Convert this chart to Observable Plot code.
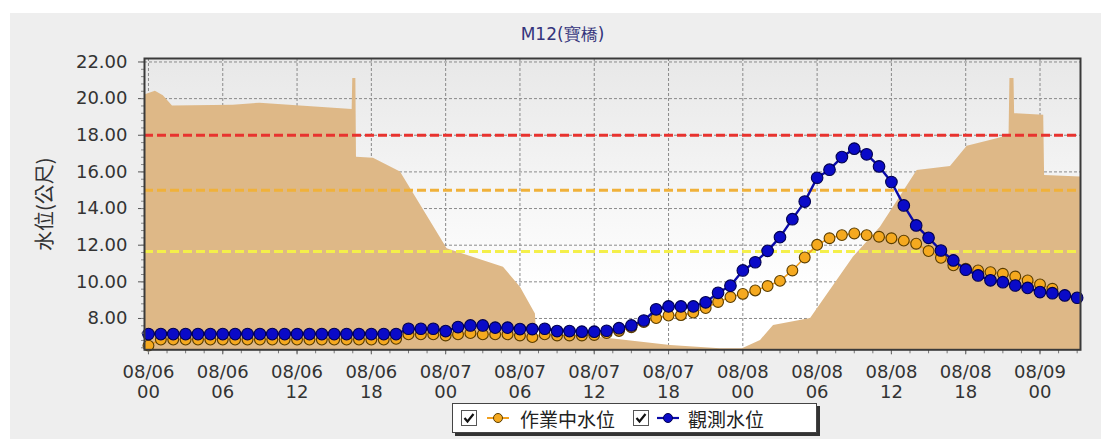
<!DOCTYPE html>
<html>
<head>
<meta charset="utf-8">
<script src="https://cdn.jsdelivr.net/npm/d3@7"></script>
<script src="https://cdn.jsdelivr.net/npm/@observablehq/plot@0.6"></script>
<style>
  html, body { margin: 0; padding: 0; }
  body { width: 1101px; height: 439px; overflow: hidden; background: #ffffff; position: relative; }
  #bg { position: absolute; left: 10px; top: 13px; right: 0; bottom: 0; background: #eeeeee; }
  #title { position: absolute; left: 0; top: 23px; width: 1101px; box-sizing: border-box; padding-left: 24px;
           text-align: center; font-family: "DejaVu Sans", sans-serif; font-size: 17px; color: #34347c; }
  #chart { position: absolute; left: 0; top: 50px; }
  #legend { position: absolute; left: 452px; top: 403px; width: 365px; height: 30px; box-sizing: border-box;
            border: 1px solid #444; background: #ffffff; box-shadow: 3px 3px 0 #333;
            display: flex; align-items: center; font-family: "Noto Sans CJK TC", sans-serif; font-size: 19px; color: #222; }
  #legend svg { display: block; }
</style>
</head>
<body>
<div id="bg"></div>
<div id="title">M12(寶橋)</div>
<div id="chart"></div>
<div id="legend">
  <svg width="16" height="16" style="margin-left:8px"><rect x="0.5" y="0.5" width="15" height="15" fill="#fff" stroke="#555"/><path d="M3.5 8 L6.5 11.5 L12.5 4" fill="none" stroke="#111" stroke-width="2.2"/></svg>
  <svg width="22" height="14" style="margin-left:10px"><line x1="0" y1="7" x2="22" y2="7" stroke="#f0a020" stroke-width="2"/><circle cx="11" cy="7" r="4.5" fill="#f5a91f" stroke="#5a3d00"/></svg>
  <span style="margin-left:11px">作業中水位</span>
  <svg width="16" height="16" style="margin-left:18px"><rect x="0.5" y="0.5" width="15" height="15" fill="#fff" stroke="#555"/><path d="M3.5 8 L6.5 11.5 L12.5 4" fill="none" stroke="#111" stroke-width="2.2"/></svg>
  <svg width="22" height="14" style="margin-left:8px"><line x1="0" y1="7" x2="22" y2="7" stroke="#0a0aa8" stroke-width="2.2"/><circle cx="11" cy="7" r="4.5" fill="#0a0ac8" stroke="#000050"/></svg>
  <span style="margin-left:9px">觀測水位</span>
</div>
<script>
// ---- data ----
const startUTC = Date.UTC(2009, 7, 6, 0, 0);   // 08/06 00:00

// 觀測水位 (hourly from 08/06 00)
const observedLevels = [
  7.15, 7.15, 7.15, 7.15, 7.15, 7.15, 7.15, 7.15, 7.15, 7.15,
  7.15, 7.15, 7.15, 7.15, 7.15, 7.15, 7.15, 7.15, 7.15, 7.15,
  7.15, 7.44, 7.44, 7.44, 7.31, 7.53, 7.62, 7.62, 7.50, 7.50,
  7.42, 7.42, 7.44, 7.31, 7.31, 7.28, 7.28, 7.33, 7.47, 7.62,
  7.89, 8.50, 8.66, 8.66, 8.66, 8.88, 9.40, 9.79, 10.62, 11.07,
  11.69, 12.44, 13.42, 14.38, 15.68, 16.12, 16.81, 17.27, 16.96, 16.30,
  15.45, 14.17, 13.08, 12.40, 11.71, 11.17, 10.66, 10.35, 10.08, 9.98,
  9.80, 9.67, 9.44, 9.38, 9.26, 9.13
];

// 作業中水位 (hourly from 08/06 00)
const operatingLevels = [
  6.52, 6.85, 6.85, 6.85, 6.85, 6.85, 6.85, 6.85, 6.85, 6.85,
  6.85, 6.85, 6.85, 6.85, 6.85, 6.85, 6.85, 6.85, 6.85, 6.85,
  6.89, 7.13, 7.13, 7.13, 7.07, 7.13, 7.20, 7.13, 7.13, 7.13,
  7.07, 6.98, 7.13, 7.07, 7.07, 7.07, 7.10, 7.20, 7.32, 7.52,
  7.80, 8.02, 8.16, 8.18, 8.32, 8.57, 8.90, 9.17, 9.34, 9.53,
  9.77, 10.05, 10.62, 11.33, 12.02, 12.38, 12.55, 12.64, 12.55, 12.46,
  12.38, 12.25, 12.08, 11.68, 11.31, 10.90, 10.71, 10.62, 10.53, 10.44,
  10.29, 10.08, 9.86, 9.62
];

// background shaded level (hours after 08/06 00, level)
const areaHours = [-0.32, 0.56, 1.2, 1.94, 6.85, 9.0, 16.45, 16.5, 16.75, 16.8,
  18.17, 20.35, 24.12, 28.67, 30.04, 31.25, 31.34, 35.94, 42.16, 46.19,
  47.97, 49.43, 50.48, 53.47, 56.94, 59.11, 62.08, 64.77, 66.12, 68.54,
  69.5, 69.57, 69.9, 69.95, 72.3, 72.37, 75.27];
const areaLevels = [20.2, 20.4, 20.15, 19.6, 19.64, 19.75, 19.4, 21.1, 21.1, 16.8,
  16.75, 16.0, 11.8, 10.8, 9.7, 8.25, 7.1, 7.0, 6.52, 6.35,
  6.35, 6.8, 7.62, 8.0, 11.35, 12.98, 16.08, 16.3, 17.4, 17.81,
  18.0, 21.1, 21.1, 19.18, 19.09, 15.81, 15.72];

// warning levels
const warningLevels = [18.0, 15.0, 11.65];
const warningColors = ["#e8332f", "#f0b13a", "#f4ef4a"];

// axes
const xTickHours = [0, 6, 12, 18, 24, 30, 36, 42, 48, 54, 60, 66, 72];
const yTicks = [8, 10, 12, 14, 16, 18, 20, 22];
const xDomainHours = [-0.32, 75.27];
const yDomain = [6.29, 22.19];

// ---- build ----
const toDate = h => new Date(startUTC + h * 3600e3);
const observed = observedLevels.map((v, i) => ({time: toDate(i), value: v}));
const operating = operatingLevels.map((v, i) => ({time: toDate(i), value: v}));
const areaData = areaHours.map((h, i) => ({time: toDate(h), value: areaLevels[i]}));
const xTicks = xTickHours.map(toDate);
const xMinor = d3.range(0, 75.3, 1.5).map(toDate);
const yMinor = d3.range(6.4, 22.1, 0.4);

const gridStyle = {stroke: "#8a8a8a", strokeOpacity: 1, strokeWidth: 1, strokeDasharray: "3,2"};

const plot = Plot.plot({
  width: 1101,
  height: 353,
  marginLeft: 144,
  marginRight: 21,
  marginTop: 8,
  marginBottom: 53.7,
  style: {background: "transparent", fontFamily: "DejaVu Sans, sans-serif", fontSize: "18px", color: "#333"},
  x: {type: "utc", domain: xDomainHours.map(toDate)},
  y: {domain: yDomain},
  marks: [
    Plot.frame({fill: "url(#plotbg)", stroke: "none"}),
    Plot.gridX(xTicks, gridStyle),
    Plot.gridY(yTicks, gridStyle),
    Plot.areaY(areaData, {x: "time", y1: yDomain[0], y2: "value", fill: "#deb887", clip: true}),
    ...warningLevels.map((v, i) => Plot.ruleY([v], {stroke: warningColors[i], strokeWidth: 3, strokeDasharray: "9,4"})),
    Plot.line(operating, {x: "time", y: "value", stroke: "#f0a020", strokeWidth: 1.6}),
    Plot.dot(operating, {x: "time", y: "value", r: 5.4, fill: "#f5a91f", stroke: "#5a3d00", strokeWidth: 1.1}),
    Plot.line(observed, {x: "time", y: "value", stroke: "#0a0aa8", strokeWidth: 2.4}),
    Plot.dot(observed, {x: "time", y: "value", r: 5.8, fill: "#0a0ac8", stroke: "#000050", strokeWidth: 1.1}),
    Plot.axisX({ticks: xTicks, tickFormat: d3.utcFormat("%m/%d\n%H"), tickSize: 5, tickPadding: 9, lineHeight: 1.12, stroke: "#555", label: null}),
    Plot.axisX({ticks: xMinor, tickFormat: () => "", tickSize: 4, stroke: "#777", label: null}),
    Plot.axisY({ticks: yTicks, tickFormat: d => d.toFixed(2), tickSize: 6, tickPadding: 11, stroke: "#555", label: null}),
    Plot.axisY({ticks: yMinor, tickFormat: () => "", tickSize: 3, stroke: "#888", label: null}),
    Plot.text(["水位(公尺)"], {frameAnchor: "left", dx: -99, rotate: -90, fontSize: 20, fill: "#333",
      fontFamily: "Noto Sans CJK TC, sans-serif", textAnchor: "middle"}),
    Plot.frame({stroke: "#3a3a3a", strokeWidth: 2})
  ]
});

const ns = "http://www.w3.org/2000/svg";
const defs = document.createElementNS(ns, "defs");
defs.innerHTML = '<linearGradient id="plotbg" x1="0" y1="0" x2="0" y2="1">' +
  '<stop offset="0" stop-color="#e8e8e8"/><stop offset="0.8" stop-color="#ffffff"/><stop offset="1" stop-color="#ffffff"/></linearGradient>';
plot.insertBefore(defs, plot.firstChild);
document.getElementById("chart").appendChild(plot);
</script>
</body>
</html>
